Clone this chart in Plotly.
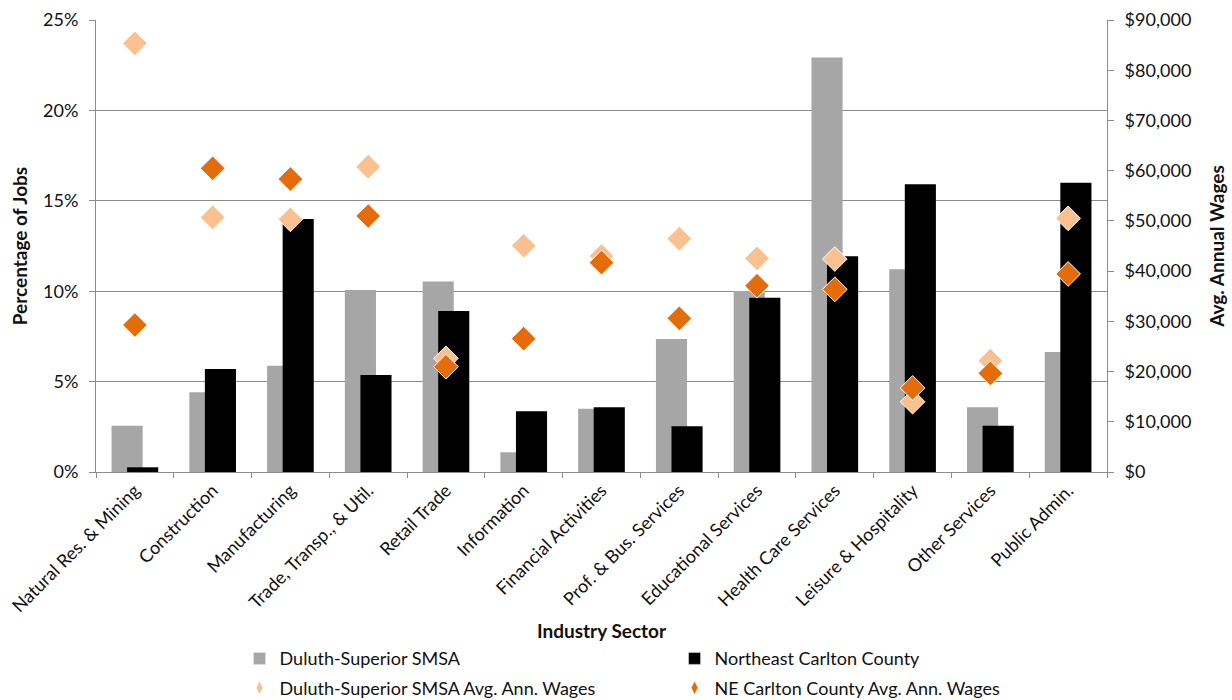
import plotly.graph_objects as go

# Industry sectors
sectors = [
    "Natural Res. & Mining", "Construction", "Manufacturing",
    "Trade, Transp., & Util.", "Retail Trade", "Information",
    "Financial Activities", "Prof. & Bus. Services", "Educational Services",
    "Health Care Services", "Leisure & Hospitality", "Other Services",
    "Public Admin.",
]

# Share of jobs by sector (fraction of total)
duluth_share = [0.0256, 0.0441, 0.0588, 0.1007, 0.1053, 0.0109, 0.0350,
                0.0736, 0.1001, 0.2293, 0.1121, 0.0358, 0.0664]
carlton_share = [0.0026, 0.0570, 0.1399, 0.0537, 0.0890, 0.0336, 0.0358,
                 0.0253, 0.0964, 0.1193, 0.1591, 0.0256, 0.1600]

# Average annual wages by sector (USD)
duluth_wages = [85360, 50710, 50310, 60790, 22640, 45060, 43010,
                46460, 42550, 42410, 14000, 22170, 50510]
carlton_wages = [29270, 60470, 58340, 50970, 20970, 26550, 41680,
                 30600, 37100, 36370, 16730, 19650, 39430]

FONT = "Lato, 'Open Sans', sans-serif"
GRID = "#8c8c8c"
TXT = "#111111"
GRAY = "#a6a6a6"
BLACK = "#000000"
LIGHT_OR = "#fac090"
DARK_OR = "#e46c0a"

fig = go.Figure()

fig.add_trace(go.Bar(
    x=sectors, y=duluth_share, name="Duluth-Superior SMSA",
    marker=dict(color=GRAY, line=dict(width=0)),
    width=0.4, offset=-0.30, showlegend=False,
))
fig.add_trace(go.Bar(
    x=sectors, y=carlton_share, name="Northeast Carlton County",
    marker=dict(color=BLACK, line=dict(width=0)),
    width=0.4, offset=-0.10, showlegend=False,
))
fig.add_trace(go.Scatter(
    x=sectors, y=duluth_wages, yaxis="y2", mode="markers",
    name="Duluth-Superior SMSA Avg. Ann. Wages",
    marker=dict(symbol="diamond", size=19, color=LIGHT_OR,
                line=dict(color="white", width=1)),
    showlegend=False,
))
fig.add_trace(go.Scatter(
    x=sectors, y=carlton_wages, yaxis="y2", mode="markers",
    name="NE Carlton County Avg. Ann. Wages",
    marker=dict(symbol="diamond", size=19, color=DARK_OR,
                line=dict(color="white", width=1)),
    showlegend=False,
))

# Legend entries (two rows, two columns)
fig.add_trace(go.Bar(x=[None], y=[None], name="Duluth-Superior SMSA",
                     marker_color=GRAY, legend="legend"))
fig.add_trace(go.Bar(x=[None], y=[None], name="Northeast Carlton County",
                     marker_color=BLACK, legend="legend"))
fig.add_trace(go.Scatter(x=[None], y=[None], yaxis="y2", mode="markers",
                         name="Duluth-Superior SMSA Avg. Ann. Wages",
                         marker=dict(symbol="diamond-tall", size=9, color=LIGHT_OR),
                         legend="legend2"))
fig.add_trace(go.Scatter(x=[None], y=[None], yaxis="y2", mode="markers",
                         name="NE Carlton County Avg. Ann. Wages",
                         marker=dict(symbol="diamond-tall", size=9, color=DARK_OR),
                         legend="legend2"))

legend_common = dict(
    orientation="h", xanchor="left", yanchor="middle",
    entrywidth=390, entrywidthmode="pixels",
    font=dict(family=FONT, size=18, color=TXT),
    bgcolor="rgba(0,0,0,0)", itemclick=False, itemdoubleclick=False,
    tracegroupgap=0, traceorder="normal",
)

fig.update_layout(
    width=1232, height=700,
    margin=dict(l=96, r=125, t=20, b=228, autoexpand=False),
    paper_bgcolor="white", plot_bgcolor="white",
    font=dict(family=FONT, size=18, color=TXT),
    barmode="overlay",
    xaxis=dict(
        type="category", tickangle=-45, tickson="boundaries",
        ticks="outside", ticklen=5, tickcolor=GRID,
        showline=True, linecolor=GRID, linewidth=1,
        showgrid=False, tickfont=dict(size=18, color=TXT),
        range=[-0.5, 12.5], automargin=False,
    ),
    yaxis=dict(
        range=[0, 0.25], dtick=0.05, tickformat=".0%",
        showgrid=True, gridcolor=GRID, gridwidth=1,
        showline=True, linecolor=GRID, linewidth=1,
        ticks="outside", ticklen=6, tickcolor=GRID, ticklabelstandoff=7,
        zeroline=False, tickfont=dict(size=18, color=TXT), automargin=False,
        title=dict(text="<b>Percentage of Jobs</b>", font=dict(size=19, color=TXT),
                   standoff=10),
    ),
    yaxis2=dict(
        overlaying="y", side="right", range=[0, 90000], dtick=10000,
        tickprefix="$", tickformat=",d",
        showgrid=False, showline=True, linecolor=GRID, linewidth=1,
        ticks="outside", ticklen=6, tickcolor=GRID, ticklabelstandoff=7,
        zeroline=False, tickfont=dict(size=18, color=TXT), automargin=False,
        title=dict(text="<b>Avg. Annual Wages</b>", font=dict(size=19, color=TXT),
                   standoff=20),
    ),
    legend=dict(x=0.142, y=-0.413, **legend_common),
    legend2=dict(x=0.142, y=-0.478, **legend_common),
    annotations=[dict(
        text="<b>Industry Sector</b>", xref="paper", yref="paper",
        x=0.5, y=-0.35, xanchor="center", yanchor="middle", showarrow=False,
        font=dict(family=FONT, size=19, color=TXT),
    )],
)

fig.write_html("out.html")
